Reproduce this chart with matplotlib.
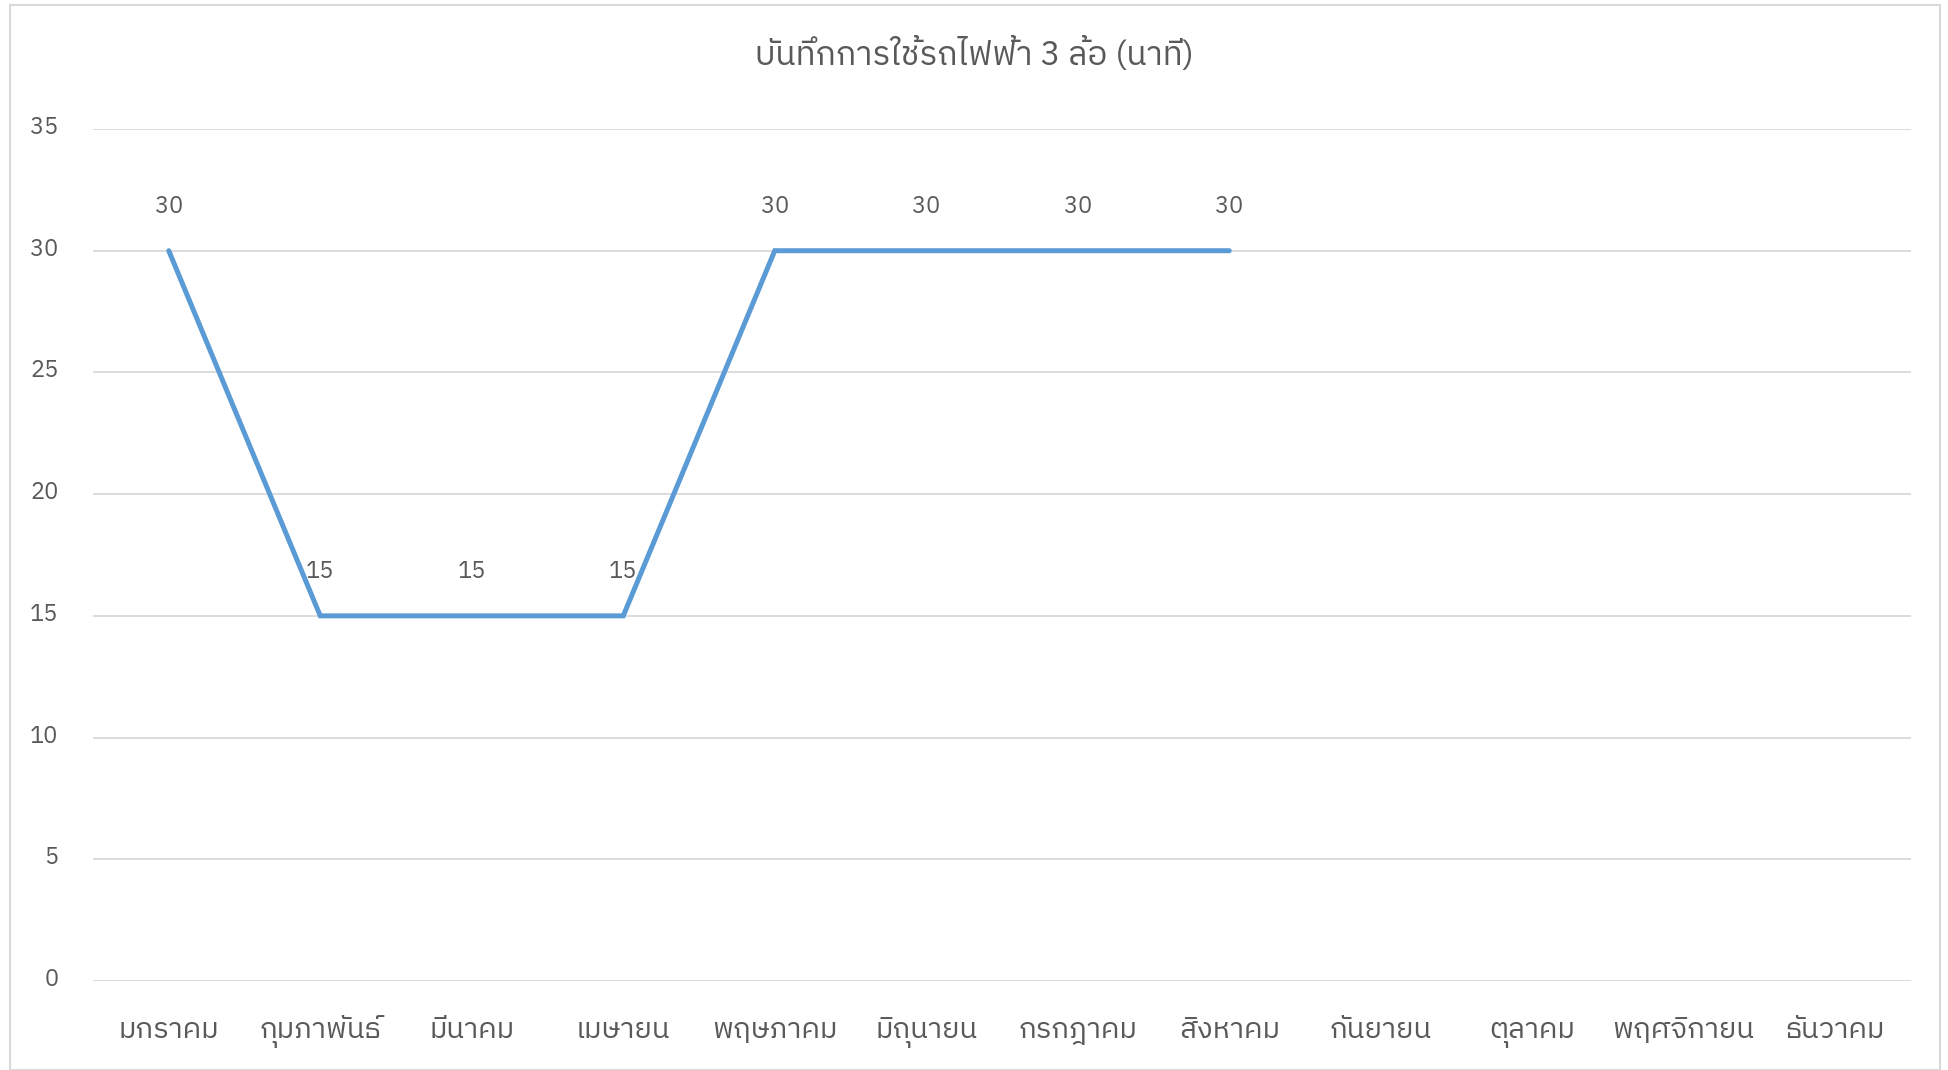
import matplotlib
matplotlib.use("Agg")
import matplotlib.pyplot as plt
from matplotlib import font_manager
from matplotlib.ft2font import FT2Font
from matplotlib.patches import Rectangle
from matplotlib.transforms import ScaledTranslation

# find a font that has Thai glyphs
thai_font = None
seen = set()
for f in font_manager.fontManager.ttflist:
    if f.fname in seen:
        continue
    seen.add(f.fname)
    try:
        cmap = FT2Font(f.fname).get_charmap()
    except Exception:
        continue
    if 0x0E01 in cmap and 0x0E21 in cmap:
        if thai_font is None or ('Thai' in f.name and 'Thai' not in thai_font):
            thai_font = f.name
fams = ['DejaVu Sans']
if thai_font:
    fams = [thai_font, 'DejaVu Sans']
plt.rcParams['font.family'] = fams

months = ['มกราคม', 'กุมภาพันธ์', 'มีนาคม', 'เมษายน', 'พฤษภาคม', 'มิถุนายน',
          'กรกฎาคม', 'สิงหาคม', 'กันยายน', 'ตุลาคม', 'พฤศจิกายน', 'ธันวาคม']
minutes = [30, 15, 15, 15, 30, 30, 30, 30]
title = 'บันทึกการใช้รถไฟฟ้า 3 ล้อ (นาที)'
yticks = [0, 5, 10, 15, 20, 25, 30, 35]

txt = '#595959'
grid = '#D9D9D9'
blue = '#5B9BD5'

fig = plt.figure(figsize=(19.48, 10.70), dpi=100)
fig.patches.append(Rectangle((10/1948, 0), 1930/1948, 1 - 5/1070, transform=fig.transFigure,
                             fill=False, edgecolor=grid, linewidth=1.5))
ax = fig.add_axes([93/1948, 1 - 981/1070, (1911 - 93)/1948, (981 - 129)/1070])

x = list(range(len(minutes)))
ax.plot(x, minutes, color=blue, linewidth=3.6, solid_capstyle='round', solid_joinstyle='miter', zorder=3)
for xi, v in zip(x, minutes):
    ax.annotate(str(v), (xi, v), xytext=(0, 32), textcoords='offset points',
                ha='center', va='center', fontsize=17, color=txt)

ax.set_xlim(-0.5, len(months) - 0.5)
ax.set_ylim(0, 35)
ax.set_yticks(yticks)
ax.set_xticks(range(len(months)))
ax.set_xticklabels(months, fontsize=21)
ax.grid(axis='y', color=grid, linewidth=1.3)
ax.set_axisbelow(True)
for s in ax.spines.values():
    s.set_visible(False)
ax.tick_params(axis='both', length=0, colors=txt)
ax.tick_params(axis='y', pad=25, labelsize=17)
ax.tick_params(axis='x', pad=41)
# thai labels sit on a common baseline
for lab in ax.get_xticklabels():
    lab.set_va('baseline')
# y labels sit a bit above the gridlines
up = ScaledTranslation(0, 4/100, fig.dpi_scale_trans)
for lab in ax.get_yticklabels():
    lab.set_transform(lab.get_transform() + up)

fig.text(0.5, 1 - 55/1070, title, ha='center', va='center', fontsize=24, color=txt)

fig.savefig('out.png', dpi=100)
